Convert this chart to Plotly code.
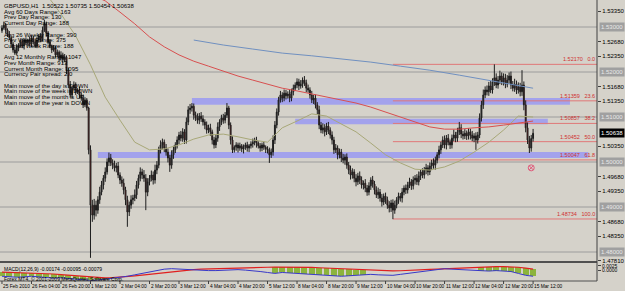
import plotly.graph_objects as go

# ---------------- data (GBPUSD H1) ----------------
first_open = 1.5292
close = [
    1.5298, 1.5304, 1.5293, 1.5284, 1.5276, 1.5262, 1.5249, 1.5242, 1.5253, 1.5260,
    1.5267, 1.5258, 1.5271, 1.5264, 1.5271, 1.5262, 1.5276, 1.5267, 1.5258, 1.5271,
    1.5280, 1.5273, 1.5293, 1.5307, 1.5287, 1.5267, 1.5258, 1.5249, 1.5253, 1.5238,
    1.5244, 1.5231, 1.5238, 1.5227, 1.5233, 1.5204, 1.5171, 1.5149, 1.5164, 1.5171,
    1.5156, 1.5160, 1.5149, 1.5142, 1.5127, 1.5138, 1.5120, 1.5027, 1.4904, 1.4882,
    1.4904, 1.4893, 1.4916, 1.4933, 1.4949, 1.4964, 1.4978, 1.5000, 1.5009, 1.4998,
    1.4993, 1.4987, 1.4991, 1.4971, 1.4960, 1.4953, 1.4938, 1.4916, 1.4889, 1.4904,
    1.4916, 1.4920, 1.4927, 1.4949, 1.4964, 1.4978, 1.4971, 1.4964, 1.4933, 1.4956,
    1.4964, 1.4971, 1.4960, 1.4982, 1.4993, 1.5027, 1.5038, 1.5044, 1.5031, 1.5022,
    1.5009, 1.4993, 1.5016, 1.5027, 1.5038, 1.5049, 1.5060, 1.5053, 1.5067, 1.5049,
    1.5089, 1.5116, 1.5120, 1.5124, 1.5104, 1.5098, 1.5093, 1.5102, 1.5096, 1.5089,
    1.5082, 1.5071, 1.5076, 1.5067, 1.5049, 1.5038, 1.5053, 1.5078, 1.5089, 1.5098,
    1.5093, 1.5104, 1.5120, 1.5082, 1.5049, 1.5027, 1.5033, 1.5038, 1.5031, 1.5036,
    1.5029, 1.5033, 1.5038, 1.5031, 1.5036, 1.5040, 1.5044, 1.5049, 1.5042, 1.5036,
    1.5031, 1.5038, 1.5033, 1.5029, 1.5027, 1.5016, 1.5022, 1.5049, 1.5082, 1.5111,
    1.5138, 1.5149, 1.5142, 1.5153, 1.5147, 1.5151, 1.5142, 1.5156, 1.5164, 1.5171,
    1.5178, 1.5169, 1.5173, 1.5182, 1.5176, 1.5164, 1.5160, 1.5149, 1.5138, 1.5142,
    1.5127, 1.5116, 1.5082, 1.5071, 1.5076, 1.5067, 1.5080, 1.5071, 1.5060, 1.5049,
    1.5027, 1.5031, 1.5016, 1.5022, 1.5009, 1.5004, 1.5011, 1.4993, 1.4982, 1.4971,
    1.4978, 1.4964, 1.4956, 1.4969, 1.4960, 1.4949, 1.4953, 1.4942, 1.4933, 1.4947,
    1.4960, 1.4951, 1.4938, 1.4927, 1.4933, 1.4920, 1.4911, 1.4924, 1.4916, 1.4904,
    1.4898, 1.4909, 1.4893, 1.4904, 1.4916, 1.4924, 1.4920, 1.4933, 1.4942, 1.4938,
    1.4949, 1.4956, 1.4947, 1.4960, 1.4964, 1.4956, 1.4969, 1.4978, 1.4971, 1.4982,
    1.4987, 1.4978, 1.4991, 1.4998, 1.4993, 1.5004, 1.5016, 1.5027, 1.5038, 1.5049,
    1.5038, 1.5053, 1.5044, 1.5038, 1.5053, 1.5060, 1.5053, 1.5067, 1.5076, 1.5062,
    1.5058, 1.5064, 1.5058, 1.5067, 1.5060, 1.5053, 1.5058, 1.5049, 1.5060, 1.5098,
    1.5127, 1.5149, 1.5160, 1.5156, 1.5169, 1.5160, 1.5178, 1.5187, 1.5171, 1.5182,
    1.5191, 1.5178, 1.5187, 1.5173, 1.5182, 1.5191, 1.5171, 1.5164, 1.5173, 1.5160,
    1.5167, 1.5156, 1.5171, 1.5127, 1.5076, 1.5049, 1.5031, 1.50522, 1.50638,
]
# wick lengths above / below the candle body, in pips
up_pips = [
    6, 8, 5, 4, 7, 3, 5, 6, 9, 4,   5, 7, 4, 6, 3, 8, 5, 4, 6, 7,
    4, 6, 8, 9, 5, 4, 6, 3, 7, 5,   6, 4, 8, 5, 7, 4, 6, 9, 5, 8,
    6, 4, 7, 5, 8, 6, 4, 3, 10, 12, 14, 10, 8, 12, 9, 7, 10, 8, 12, 9,
    8, 10, 7, 9, 6, 8, 10, 7, 9, 8, 10, 7, 12, 9, 8, 10, 7, 11, 9, 8,
    7, 10, 8, 12, 9, 7, 10, 8, 6, 9, 8, 7, 10, 9, 6, 8, 7, 9, 8, 6,
    10, 8, 9, 7, 6, 8, 10, 7, 9, 8, 6, 8, 7, 9, 5, 7, 8, 10, 6, 7,
    9, 7, 11, 5, 6, 8, 4, 6, 5, 7, 4, 6, 5, 7, 4, 6, 8, 5, 7, 4,
    6, 5, 7, 4, 6, 5, 8, 10, 9, 8, 7, 9, 6, 8, 7, 6, 9, 7, 8, 6,
    8, 7, 9, 6, 9, 7, 8, 6, 9, 7, 8, 6, 9, 7, 10, 8, 7, 9, 6, 8,
    7, 9, 6, 8, 7, 9, 6, 8, 7, 10, 8, 6, 9, 7, 10, 8, 6, 9, 7, 8,
    6, 9, 7, 8, 10, 7, 9, 6, 8, 7, 9, 7, 8, 10, 6, 8, 7, 9, 6, 8,
    7, 9, 6, 8, 7, 9, 10, 6, 8, 7, 9, 6, 8, 7, 10, 8, 6, 9, 7, 8,
    10, 7, 9, 6, 8, 12, 7, 9, 13, 8, 7, 9, 6, 8, 7, 9, 6, 8, 7, 10,
    9, 12, 8, 10, 9, 11, 8, 30, 10, 9, 12, 8, 10, 9, 11, 8, 10, 9, 12, 8,
    10, 9, 33, 8, 10, 12, 9, 8, 9.7,
]
dn_pips = [
    5, 4, 7, 6, 5, 8, 6, 4, 5, 7,   6, 5, 8, 4, 6, 5, 7, 6, 4, 5,
    6, 7, 5, 4, 8, 6, 5, 7, 4, 6,   5, 7, 6, 8, 5, 9, 7, 6, 8, 5,
    7, 5, 8, 6, 7, 5, 6, 10, 117, 15, 10, 14, 8, 9, 7, 10, 8, 6, 9, 7,
    9, 8, 10, 7, 9, 8, 10, 12, 33, 9, 8, 10, 7, 9, 8, 7, 9, 8, 40, 9,
    8, 7, 10, 8, 9, 7, 8, 10, 9, 8, 10, 15, 8, 9, 7, 8, 9, 7, 8, 9,
    8, 7, 9, 8, 10, 7, 8, 9, 7, 8, 9, 8, 7, 9, 10, 8, 7, 8, 9, 7,
    8, 7, 6, 9, 10, 7, 6, 8, 10, 6, 7, 10, 6, 8, 9, 6, 8, 7, 10, 6,
    8, 7, 6, 9, 8, 18, 7, 8, 9, 7, 8, 6, 9, 7, 8, 6, 9, 7, 8, 6,
    7, 9, 6, 8, 7, 9, 6, 8, 7, 9, 8, 10, 9, 7, 8, 10, 7, 9, 8, 10,
    9, 7, 10, 8, 9, 7, 10, 8, 9, 10, 8, 9, 10, 7, 9, 8, 10, 9, 8, 7,
    9, 8, 10, 7, 9, 8, 10, 7, 9, 8, 10, 9, 20, 8, 7, 9, 8, 10, 7, 9,
    8, 7, 9, 8, 10, 7, 8, 9, 7, 8, 9, 8, 7, 9, 8, 10, 7, 8, 9, 7,
    8, 10, 7, 9, 8, 7, 9, 8, 7, 9, 8, 7, 9, 8, 10, 7, 9, 22, 8, 7,
    8, 9, 7, 8, 9, 7, 8, 9, 7, 8, 9, 7, 8, 9, 7, 8, 9, 7, 8, 9,
    8, 10, 9, 12, 10, 9, 11, 8, 6.8,
]

# date labels every 16 H1 bars
date_labels = ["25 Feb 2010", "26 Feb 04:00", "26 Feb 20:00", "1 Mar 12:00", "2 Mar 04:00",
               "2 Mar 20:00", "3 Mar 12:00", "4 Mar 04:00", "4 Mar 20:00", "5 Mar 12:00",
               "8 Mar 04:00", "8 Mar 20:00", "9 Mar 12:00", "10 Mar 04:00", "10 Mar 20:00",
               "11 Mar 12:00", "12 Mar 04:00", "12 Mar 20:00", "15 Mar 12:00"]
date_label_bars = [16 * k for k in range(len(date_labels))]

# moving averages sampled every 8 bars
ma_bars = [8 * k for k in range(37)]
ma_red = [1.5482, 1.5460, 1.5440, 1.5420, 1.5402, 1.5387, 1.5373, 1.5358, 1.5333, 1.5307,
          1.5278, 1.5256, 1.5238, 1.5224, 1.5213, 1.5202, 1.5191, 1.5182, 1.5173, 1.5164,
          1.5158, 1.5151, 1.5144, 1.5138, 1.5131, 1.5122, 1.5111, 1.5100, 1.5089, 1.5078,
          1.5073, 1.5073, 1.5076, 1.5078, 1.5082, 1.5087, 1.5091]
ma_khaki = [1.5493, 1.5460, 1.5422, 1.5373, 1.5329, 1.5280, 1.5216, 1.5144, 1.5093, 1.5044,
            1.5027, 1.5029, 1.5038, 1.5051, 1.5060, 1.5062, 1.5056, 1.5049, 1.5044, 1.5076,
            1.5091, 1.5107, 1.5102, 1.5084, 1.5067, 1.5042, 1.5016, 1.4998, 1.4984, 1.4982,
            1.4989, 1.5002, 1.5022, 1.5044, 1.5071, 1.5102, 1.5100]
ma_blue_bars = [104, 120, 136, 152, 168, 184, 200, 216, 232, 248, 264, 280, 288]
ma_blue = [1.5271, 1.5260, 1.5251, 1.5242, 1.5236, 1.5229, 1.5222, 1.5213, 1.5204, 1.5193,
           1.5182, 1.5171, 1.5164]

# MACD panel, sampled every 4 bars
macd_bars = [4 * k for k in range(73)]
macd_signal = [-0.00080, -0.00090, -0.00100, -0.00110, -0.00120, -0.00140, -0.00160, -0.00180,
               -0.00210, -0.00240, -0.00270, -0.00300, -0.00330, -0.00360, -0.00380, -0.00375,
               -0.00350, -0.00315, -0.00275, -0.00235, -0.00190, -0.00140, -0.00090, -0.00050,
               -0.00010, 0.00025, 0.00050, 0.00075, 0.00090, 0.00100, 0.00115, 0.00125,
               0.00135, 0.00150, 0.00160, 0.00170, 0.00175, 0.00180, 0.00185, 0.00190,
               0.00190, 0.00185, 0.00170, 0.00150, 0.00130, 0.00110, 0.00090, 0.00070,
               0.00050, 0.00030, 0.00015, 0.00000, -0.00010, -0.00015, -0.00010, 0.00000,
               0.00020, 0.00040, 0.00060, 0.00080, 0.00100, 0.00120, 0.00140, 0.00160,
               0.00175, 0.00190, 0.00200, 0.00210, 0.00210, 0.00200, 0.00175, 0.00125,
               0.00075]
macd_main = [-0.00300, -0.00320, -0.00350, -0.00330, -0.00300, -0.00330, -0.00360, -0.00400,
             -0.00380, -0.00420, -0.00450, -0.00480, -0.00520, -0.00500, -0.00460, -0.00400,
             -0.00350, -0.00300, -0.00225, -0.00150, -0.00075, 0.00000, 0.00075, 0.00100,
             0.00075, 0.00050, 0.00050, 0.00025, 0.00000, 0.00000, 0.00025, 0.00050,
             0.00050, 0.00025, 0.00000, -0.00050, -0.00100, -0.00150, -0.00100, -0.00125,
             -0.00150, -0.00175, -0.00200, -0.00225, -0.00250, -0.00300, -0.00300, -0.00275,
             -0.00250, -0.00225, -0.00200, -0.00225, -0.00250, -0.00250, -0.00200, -0.00150,
             -0.00100, -0.00050, 0.00000, 0.00050, 0.00100, 0.00075, 0.00050, 0.00050,
             0.00025, 0.00000, -0.00025, 0.00000, -0.00025, -0.00050, -0.00150, -0.00250,
             -0.00300]
green_spans = [(0, 60), (148, 196), (260, 288)]

# horizontal levels
round_levels = [1.53, 1.52, 1.51, 1.50, 1.49, 1.48]
fibo_low, fibo_high = 1.48734, 1.52170
fibo_ratios = [0.0, 23.6, 38.2, 50.0, 61.8, 100.0]
fibo_start_bar = 212
zones = [(1.5127, 1.5142, 103, 308), (1.5084, 1.5096, 159, 296), (1.5009, 1.5022, 52, 318)]
axis_ticks = [1.5335, 1.5268, 1.5235, 1.5168, 1.5135, 1.5035, 1.4968, 1.4935, 1.4868, 1.4835,
              1.4781]
marker_bar, marker_price = 287, 1.4987

info_lines = ["GBPUSD,H1  1.50522 1.50735 1.50454 1.50638", "Avg 60 Days Range: 163",
              "Prev Day Range: 130", "Current Day Range: 188", "", "Avg 26 Weekly Range: 390",
              "Prev Week Range: 375", "Current Week Range: 188", "", "Avg 12 Monthly Range: 1047",
              "Prev Month Range: 913", "Current Month Range: 1095", "Currency Pair spread: 2.0", "",
              "Main move of the day is DOWN", "Main move of the week is DOWN",
              "Main move of the month is UP", "Main move of the year is DOWN"]

# ---------------- build ----------------
opens = [first_open] + close[:-1]
highs = [max(o, c) + u / 10000 for o, c, u in zip(opens, close, up_pips)]
lows = [min(o, c) - d / 10000 for o, c, d in zip(opens, close, dn_pips)]
bars = list(range(len(close)))

W, H = 625, 291
ML, MR, MT, MB = 0, 18, 0, 10
PW, PH = W - ML - MR, H - MT - MB
BG = "#D5D2CA"
FONT = "Liberation Sans"

def py(px):  # paper y from pixel row inside plot area
    return (PH - px) / PH

x0 = -1.07
x1 = x0 + PW / 1.875

fig = go.Figure()
# MACD green histogram (between main and signal where marked)
gx, gb, gh = [], [], []
for b, m, s in zip(macd_bars, macd_main, macd_signal):
    if any(a <= b <= e for a, e in green_spans):
        gx.append(b)
        gb.append(min(m, s))
        gh.append(abs(s - m))
fig.add_trace(go.Bar(x=gx, y=gh, base=gb, width=3.2, yaxis="y2",
                     marker=dict(color="#8CB43C", line=dict(width=0)), showlegend=False,
                     hoverinfo="skip"))
fig.add_trace(go.Scatter(x=macd_bars, y=macd_signal, mode="lines", yaxis="y2",
                         line=dict(color="#E02020", width=1.2), showlegend=False))
fig.add_trace(go.Scatter(x=macd_bars, y=macd_main, mode="lines", yaxis="y2",
                         line=dict(color="#3838C8", width=1), showlegend=False))

fig.add_trace(go.Candlestick(
    x=bars, open=opens, high=highs, low=lows, close=close,
    increasing=dict(line=dict(color="#1E1E1E", width=1), fillcolor="#3A3A3A"),
    decreasing=dict(line=dict(color="#1E1E1E", width=1), fillcolor="#A01818"),
    whiskerwidth=0, showlegend=False, hoverinfo="skip"))
fig.add_trace(go.Scatter(x=ma_bars, y=ma_khaki, mode="lines",
                         line=dict(color="#A8A878", width=1), showlegend=False))
fig.add_trace(go.Scatter(x=ma_bars, y=ma_red, mode="lines",
                         line=dict(color="#D85050", width=1), showlegend=False))
fig.add_trace(go.Scatter(x=ma_blue_bars, y=ma_blue, mode="lines",
                         line=dict(color="#7090C0", width=1), showlegend=False))
fig.add_trace(go.Scatter(x=[marker_bar], y=[marker_price], mode="markers",
                         marker=dict(symbol="circle-x-open", size=6, color="#E05A7A",
                                     line=dict(width=1)), showlegend=False))

shapes = []
for lv in round_levels:
    shapes.append(dict(type="line", xref="paper", x0=0, x1=1, yref="y", y0=lv, y1=lv,
                       line=dict(color="#9C9C9C", width=1), layer="below"))
for lo, hi, b0, b1 in zones:
    shapes.append(dict(type="rect", xref="x", x0=b0, x1=b1, yref="y", y0=lo, y1=hi,
                       fillcolor="#9A9AF2", opacity=0.85, line=dict(width=0), layer="below"))
fibo_prices = []
for r in fibo_ratios:
    p = fibo_high - (fibo_high - fibo_low) * r / 100
    fibo_prices.append(p)
    shapes.append(dict(type="line", xref="x", x0=fibo_start_bar, x1=x1, yref="y", y0=p, y1=p,
                       line=dict(color="#E07878", width=1), layer="below"))
# panel separators and frame
shapes.append(dict(type="line", xref="paper", x0=0, x1=1, yref="paper", y0=py(262), y1=py(262),
                   line=dict(color="#505050", width=2)))
shapes.append(dict(type="line", xref="paper", x0=0, x1=1, yref="paper", y0=0, y1=0,
                   line=dict(color="#505050", width=1)))
shapes.append(dict(type="line", xref="paper", x0=1, x1=1, yref="paper", y0=0, y1=1,
                   line=dict(color="#404040", width=1)))
for b in date_label_bars:
    shapes.append(dict(type="line", xref="x", x0=b, x1=b, yref="paper", y0=0, y1=py(284),
                       line=dict(color="#404040", width=1)))

ann = []
for i, t in enumerate(info_lines):
    if t:
        ann.append(dict(x=0.004, y=py(1 + i * 5.7), xref="paper", yref="paper", text=t,
                        showarrow=False, xanchor="left", yanchor="top",
                        font=dict(size=6, family=FONT, color="#000000")))
for b, t in zip(date_label_bars, date_labels):
    ann.append(dict(x=b, y=py(282), xref="x", yref="paper", text=t, showarrow=False,
                    xanchor="left", yanchor="top", xshift=-1,
                    font=dict(size=4.8, family=FONT, color="#000000")))
for p, r in zip(fibo_prices, fibo_ratios):
    ann.append(dict(x=1.0, y=p, xref="paper", yref="y", text=f"{p:.5f}   {r:.1f}",
                    showarrow=False, xanchor="right", yanchor="bottom",
                    font=dict(size=5.5, family=FONT, color="#D03030")))
for lv in round_levels:
    ann.append(dict(x=1.0, y=lv, xref="paper", yref="y", text=f"{lv:.5f}", showarrow=False,
                    xanchor="left", xshift=2, bgcolor="#A0A0A0",
                    font=dict(size=6, family=FONT, color="#E8E8E8")))
ann.append(dict(x=1.0, y=close[-1], xref="paper", yref="y", text=f"{close[-1]:.5f}",
                showarrow=False, xanchor="left", xshift=2, bgcolor="#000000",
                font=dict(size=6, family=FONT, color="#FFFFFF")))
ann.append(dict(x=0.004, y=py(263.5), xref="paper", yref="paper",
                text="MACD(12,26,9) -0.00174 -0.00095 -0.00079", showarrow=False,
                xanchor="left", yanchor="top", font=dict(size=5, family=FONT, color="#000000")))
ann.append(dict(x=0.004, y=py(273.5), xref="paper", yref="paper",
                text="Forex MT4, \u00a9 2001-2009 MetaQuotes Software Corp.", showarrow=False,
                xanchor="left", yanchor="top", font=dict(size=5, family=FONT, color="#000000")))

fig.update_layout(
    width=W, height=H, margin=dict(l=ML, r=MR, t=MT, b=MB),
    paper_bgcolor=BG, plot_bgcolor=BG, showlegend=False, bargap=0,
    xaxis=dict(range=[x0, x1], showgrid=False, zeroline=False, showticklabels=False,
               rangeslider=dict(visible=False), fixedrange=True),
    yaxis=dict(domain=[py(261), 1], range=[1.4780, 1.5360], side="right", showgrid=False,
               zeroline=False, tickvals=axis_ticks, ticktext=[f"{v:.5f}" for v in axis_ticks],
               ticks="outside", ticklen=3, tickcolor="#404040",
               tickfont=dict(size=6, family=FONT, color="#000000")),
    yaxis2=dict(domain=[0, py(263)], range=[-0.0055, 0.0040], side="right", showgrid=False,
                zeroline=False, tickvals=[0.0025, 0.0], ticktext=["0.0025", "0.0000"],
                ticks="outside", ticklen=3,
                tickfont=dict(size=5, family=FONT, color="#000000")),
    shapes=shapes, annotations=ann,
)
fig.write_html("out.html")
